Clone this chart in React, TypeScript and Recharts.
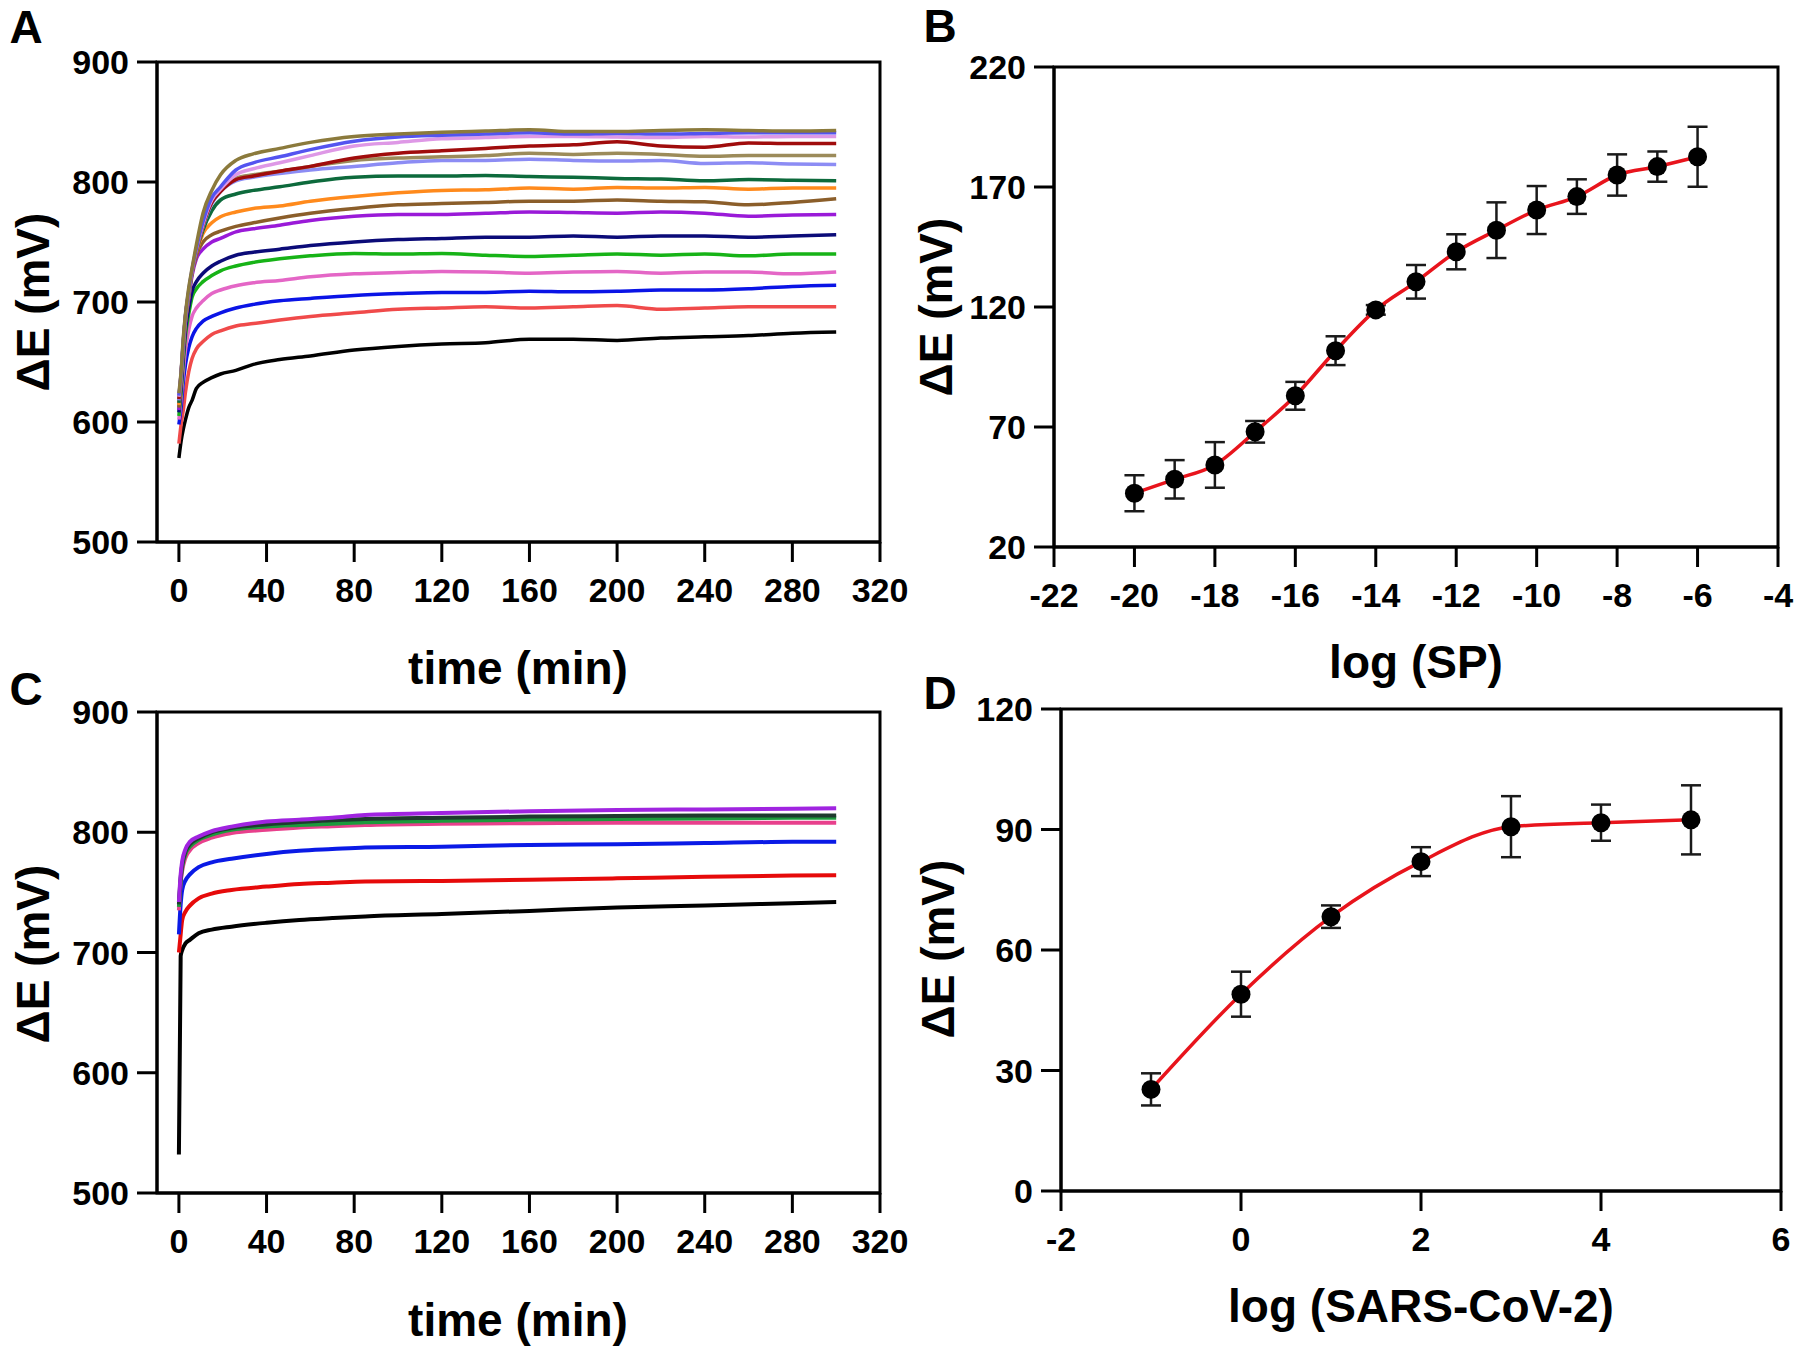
import { LineChart, Line, XAxis, YAxis, ErrorBar, ReferenceArea } from "recharts"

// ---------- panel A: potential vs time, 16 concentrations ----------
const timeA = [0, 1, 2, 3, 4.5, 6, 8, 11, 15, 19, 26, 34, 46, 60, 80, 100, 120, 140, 160, 180, 200, 220, 240, 260, 280, 300]

const olive1 = [624, 642, 670, 690, 712, 728, 748, 774, 793, 806, 818, 823.5, 828, 833, 838, 840, 841.5, 842.5, 843.5, 842, 842, 843, 843.5, 843, 842.5, 843]
const royal = [622, 641, 668, 689, 710, 727, 745, 767, 787, 796, 810, 816, 821, 827, 834, 837.5, 839, 840, 841, 840, 840.5, 840, 840.5, 841, 841, 841]
const orchid = [621, 640, 667, 688, 709, 726, 744, 765, 785, 794, 806, 811, 816, 822, 830, 833, 836, 837, 838, 838, 837.5, 837, 838, 837.5, 838, 838]
const darkRed = [619, 640, 666, 688, 708, 725, 743, 764, 783, 792, 802, 805, 809, 813, 820, 824, 826, 828, 830, 831, 833.5, 830, 829, 832.5, 832, 832]
const olive2 = [620, 640, 666, 688, 708, 725, 743, 764, 784, 793, 803, 806, 809, 813, 818, 820, 821, 822, 824, 823, 824, 823, 821.5, 822, 822, 822]
const periwinkle = [618, 639, 665, 687, 707, 725, 743, 763, 782, 792, 801, 804, 807, 810, 813, 816, 818, 818, 819, 818, 817.5, 818, 815.5, 816, 815, 814.5]
const darkGreen = [616, 638, 664, 686, 706, 725, 742, 760, 776, 785, 790, 793, 796, 800, 804, 805, 805, 805.5, 804.5, 804, 803, 802.5, 801, 802, 801.5, 801]
const orange = [614, 637, 663, 685, 705, 725, 741, 757, 766, 771, 775, 778, 780, 784, 788, 791, 793, 793.5, 795, 794, 795.5, 795, 795.5, 794, 795, 795]
const brown = [612, 636, 662, 684, 704, 724, 739, 750, 756, 759, 763, 766, 770, 774, 778, 781, 782, 783, 784, 784, 785, 784, 783.5, 781, 783, 786]
const purple = [610, 635, 660, 683, 703, 722, 736, 744, 750, 753, 758.5, 761, 764, 768, 771.5, 773, 773, 774, 775, 774.5, 774, 775, 774, 771.5, 772.5, 773]
const navy = [608, 630, 655, 677, 695, 709, 717, 724, 730, 734, 739, 741.5, 744, 747, 750, 752, 753, 754, 754, 755, 754, 755, 755, 754, 755, 756]
const green = [605, 625, 650, 672, 690, 704, 711, 717, 722, 726, 730, 733, 736, 738.5, 740.5, 740, 740.5, 739, 738, 739, 740, 739, 740, 738.5, 740, 740]
const pink = [602, 620, 642, 660, 677, 688, 695, 701, 707, 710, 713.5, 716, 718, 721, 723.5, 724.5, 725.5, 725, 724, 725, 725.5, 724, 725, 725, 723.5, 725]
const blue = [598, 612, 633, 648, 662, 671, 678, 684, 688, 691, 695, 698, 701, 703, 705.5, 707, 708, 708, 709, 708.5, 709, 710, 710, 711, 713, 714]
const red = [582, 598, 610, 625, 642, 653, 661, 667, 673, 676, 680, 682, 685, 688, 691, 694, 695, 696, 695, 696, 697, 694, 695, 696, 696, 696]
const black = [570, 584, 594, 602, 612, 618, 628, 633, 637, 640, 643, 648, 652, 655, 660, 663, 665, 666, 669, 669, 668, 670, 671, 672, 674, 675]

const seriesA = [black, red, blue, pink, green, navy, purple, brown, orange, darkGreen, periwinkle, olive2, darkRed, orchid, royal, olive1]
const colorsA = ["#000000", "#f04a4a", "#0a14e6", "#e466c6", "#17b317", "#0b0b78", "#9a1ad8", "#8b5e2a", "#ff8a1c", "#0d6a3c", "#8c8cf4", "#9c8b5a", "#a00c0c", "#de98e6", "#5454f0", "#8b7a3c"]

// ---------- panel B: calibration log(SP) ----------
const logSP = [-20, -19, -18, -17, -16, -15, -14, -13, -12, -11, -10, -9, -8, -7, -6]
const dE_SP = [42.4, 48.2, 54.2, 68, 83, 101.8, 118.8, 130.5, 143, 152, 160.4, 166, 175, 178.5, 182.6]
const err_SP = [7.5, 8, 9.5, 4.5, 5.8, 6, 2, 7, 7.3, 11.6, 10, 7.2, 8.6, 6.3, 12.5]

// ---------- panel C: potential vs time, virus ----------
const timeC = [0, 0.8, 1.5, 3, 5, 9, 15, 24, 40, 55, 70, 85, 120, 160, 200, 240, 280, 300]
const cBlack = [532, 697, 702, 707.5, 710.5, 716, 719, 721.5, 724.7, 727, 728.6, 730, 732, 734.6, 737.4, 739, 741, 742]
const cRed = [700, 715, 727, 734, 739, 745, 749, 752, 754.8, 757, 758, 759, 759.5, 760.5, 761.7, 763, 764, 764.2]
const cBlue = [715, 740, 752, 760, 765, 771, 775, 778, 782, 784.6, 786, 787.3, 788, 789.5, 790, 791, 792, 792]
const cPink = [735, 758, 768, 779, 785, 791, 795.5, 799.3, 802, 804, 805, 806, 807, 807.5, 808, 808, 808, 808]
const cGreen = [738, 760, 771, 782, 788, 793.7, 798, 802, 804.7, 806, 807, 808.3, 809.5, 810.5, 811, 811.5, 812, 812]
const cDark = [740, 762, 773, 784, 790, 795, 800, 803.5, 806.5, 808.5, 810, 811, 812, 813, 813.5, 814, 814, 814]
const cPurple = [742, 765, 776, 786, 792, 796.4, 801, 804.7, 808.9, 810.5, 812, 814.4, 816, 817.5, 818.5, 819, 819.5, 820]

const seriesC = [cBlack, cRed, cBlue, cPink, cGreen, cDark, cPurple]
const colorsC = ["#000000", "#e60a0a", "#0a1ae6", "#e8408c", "#1c9a3c", "#1f3a2e", "#a024e0"]

// ---------- panel D: calibration log(SARS-CoV-2) ----------
const logCoV = [-1, 0, 1, 2, 3, 4, 5]
const dE_CoV = [25.3, 49, 68.3, 82, 90.7, 91.7, 92.4]
const err_CoV = [4, 5.6, 2.8, 3.6, 7.6, 4.5, 8.6]

const ticksTime = [0, 40, 80, 120, 160, 200, 240, 280, 320]
const ticksE = [500, 600, 700, 800, 900]
const ticksSPx = [-22, -20, -18, -16, -14, -12, -10, -8, -6, -4]
const ticksSPy = [20, 70, 120, 170, 220]
const ticksCoVx = [-2, 0, 2, 4, 6]
const ticksCoVy = [0, 30, 60, 90, 120]

const rowsA = timeA.map((t, i) => {
  const r: any = { t }
  seriesA.forEach((s, k) => (r["s" + k] = s[i]))
  return r
})
const rowsC = timeC.map((t, i) => {
  const r: any = { t }
  seriesC.forEach((s, k) => (r["s" + k] = s[i]))
  return r
})
const rowsB = logSP.map((x, i) => ({ x, y: dE_SP[i], e: err_SP[i] }))
const rowsD = logCoV.map((x, i) => ({ x, y: dE_CoV[i], e: err_CoV[i] }))

const font = "'Liberation Sans', Arial, Helvetica, sans-serif"
const tickStyle = { fill: "#000", fontSize: 34, fontWeight: 700, fontFamily: font }
const ax = { stroke: "#000", strokeWidth: 3 }
const XH = 60
const YW = 80

function Txt({ x, y, size, rot, children }: any) {
  return (
    <div style={{
      position: "absolute", left: x, top: y, fontFamily: font, fontWeight: 700, fontSize: size,
      lineHeight: 1, whiteSpace: "nowrap", color: "#000",
      transform: `translate(-50%,-50%)${rot ? " rotate(-90deg)" : ""}`,
    }}>{children}</div>
  )
}

export default function App() {
  return (
    <div style={{ position: "absolute", left: 0, top: 0, width: 1800, height: 1353, background: "#fff", overflow: "hidden" }}>

      {/* A */}
      <div style={{ position: "absolute", left: 0, top: 0 }}>
        <LineChart width={940} height={680} data={rowsA} margin={{ top: 62, right: 60, bottom: 680 - 542 - XH, left: 157 - YW }}>
          <XAxis dataKey="t" type="number" domain={[-10, 320]} ticks={ticksTime} allowDataOverflow height={XH}
            axisLine={ax} tickLine={ax} tickSize={20} tickMargin={16} tick={tickStyle} interval={0} />
          <YAxis type="number" domain={[500, 900]} ticks={ticksE} allowDataOverflow width={YW}
            axisLine={ax} tickLine={ax} tickSize={20} tickMargin={8} tick={tickStyle} interval={0} />
          <ReferenceArea x1={-10} x2={320} y1={500} y2={900} fill="none" stroke="#000" strokeWidth={3} ifOverflow="visible" />
          {seriesA.map((_, k) => (
            <Line key={k} dataKey={"s" + k} type="monotone" stroke={colorsA[k]} strokeWidth={3.5} dot={false} isAnimationActive={false} />
          ))}
        </LineChart>
      </div>

      {/* B */}
      <div style={{ position: "absolute", left: 900, top: 0 }}>
        <LineChart width={900} height={680} data={rowsB} margin={{ top: 67, right: 22, bottom: 680 - 547 - XH, left: 154 - YW }}>
          <XAxis dataKey="x" type="number" domain={[-22, -4]} ticks={ticksSPx} allowDataOverflow height={XH}
            axisLine={ax} tickLine={ax} tickSize={20} tickMargin={16} tick={tickStyle} interval={0} />
          <YAxis type="number" domain={[20, 220]} ticks={ticksSPy} allowDataOverflow width={YW}
            axisLine={ax} tickLine={ax} tickSize={20} tickMargin={8} tick={tickStyle} interval={0} />
          <ReferenceArea x1={-22} x2={-4} y1={20} y2={220} fill="none" stroke="#000" strokeWidth={3} ifOverflow="visible" />
          <Line dataKey="y" type="monotone" stroke="#e8141c" strokeWidth={3.5} isAnimationActive={false}
            dot={{ r: 9.5, fill: "#000", stroke: "#000", strokeWidth: 0 }}>
            <ErrorBar dataKey="e" direction="y" width={10} stroke="#1a1a1a" strokeWidth={2.5} />
          </Line>
        </LineChart>
      </div>

      {/* C */}
      <div style={{ position: "absolute", left: 0, top: 680 }}>
        <LineChart width={940} height={673} data={rowsC} margin={{ top: 32, right: 60, bottom: 673 - 513 - XH, left: 157 - YW }}>
          <XAxis dataKey="t" type="number" domain={[-10, 320]} ticks={ticksTime} allowDataOverflow height={XH}
            axisLine={ax} tickLine={ax} tickSize={20} tickMargin={16} tick={tickStyle} interval={0} />
          <YAxis type="number" domain={[500, 900]} ticks={ticksE} allowDataOverflow width={YW}
            axisLine={ax} tickLine={ax} tickSize={20} tickMargin={8} tick={tickStyle} interval={0} />
          <ReferenceArea x1={-10} x2={320} y1={500} y2={900} fill="none" stroke="#000" strokeWidth={3} ifOverflow="visible" />
          {seriesC.map((_, k) => (
            <Line key={k} dataKey={"s" + k} type="monotone" stroke={colorsC[k]} strokeWidth={4} dot={false} isAnimationActive={false} />
          ))}
        </LineChart>
      </div>

      {/* D */}
      <div style={{ position: "absolute", left: 900, top: 680 }}>
        <LineChart width={900} height={673} data={rowsD} margin={{ top: 29, right: 19, bottom: 673 - 511 - XH, left: 161 - YW }}>
          <XAxis dataKey="x" type="number" domain={[-2, 6]} ticks={ticksCoVx} allowDataOverflow height={XH}
            axisLine={ax} tickLine={ax} tickSize={20} tickMargin={16} tick={tickStyle} interval={0} />
          <YAxis type="number" domain={[0, 120]} ticks={ticksCoVy} allowDataOverflow width={YW}
            axisLine={ax} tickLine={ax} tickSize={20} tickMargin={8} tick={tickStyle} interval={0} />
          <ReferenceArea x1={-2} x2={6} y1={0} y2={120} fill="none" stroke="#000" strokeWidth={3} ifOverflow="visible" />
          <Line dataKey="y" type="monotone" stroke="#e8141c" strokeWidth={3.5} isAnimationActive={false}
            dot={{ r: 9.5, fill: "#000", stroke: "#000", strokeWidth: 0 }}>
            <ErrorBar dataKey="e" direction="y" width={10} stroke="#1a1a1a" strokeWidth={2.5} />
          </Line>
        </LineChart>
      </div>

      <Txt x={26} y={27} size={46}>A</Txt>
      <Txt x={940} y={26} size={46}>B</Txt>
      <Txt x={26} y={689} size={46}>C</Txt>
      <Txt x={940} y={693} size={46}>D</Txt>

      <Txt x={33} y={302} size={46} rot>ΔE (mV)</Txt>
      <Txt x={936} y={307} size={46} rot>ΔE (mV)</Txt>
      <Txt x={33} y={954} size={46} rot>ΔE (mV)</Txt>
      <Txt x={938} y={949} size={46} rot>ΔE (mV)</Txt>

      <Txt x={518} y={668} size={46}>time (min)</Txt>
      <Txt x={1416} y={662} size={46}>log (SP)</Txt>
      <Txt x={518} y={1320} size={46}>time (min)</Txt>
      <Txt x={1421} y={1306} size={46}>log (SARS-CoV-2)</Txt>
    </div>
  )
}
